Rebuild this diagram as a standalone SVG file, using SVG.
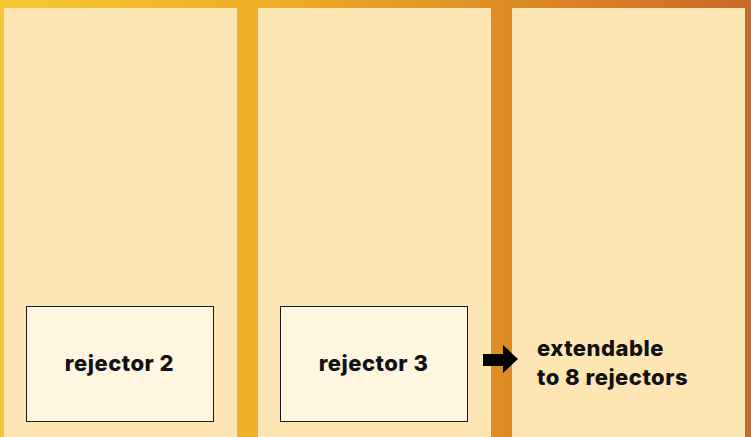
<svg xmlns="http://www.w3.org/2000/svg" width="751" height="437" viewBox="0 0 751 437">
  <defs>
    <linearGradient id="bg" x1="0" y1="0" x2="751" y2="0" gradientUnits="userSpaceOnUse">
      <stop offset="0" stop-color="#f6c833"/>
      <stop offset="0.35" stop-color="#efae27"/>
      <stop offset="0.7" stop-color="#dc8a24"/>
      <stop offset="1" stop-color="#c8692b"/>
    </linearGradient>
  </defs>
  <style>
    .panel { fill: #fde6b4; }
    .box { fill: #fff6e1; stroke: #1a1a1a; stroke-width: 1; }
    .lbl { font-family: Inter, Roboto, "Liberation Sans", sans-serif; font-weight: 800; font-size: 22px; letter-spacing: 0.5px; fill: #111111; }
  </style>
  <rect x="0" y="0" width="751" height="437" fill="url(#bg)"/>
  <g id="panels">
    <rect class="panel" x="4" y="8" width="233" height="429"/>
    <rect class="panel" x="258" y="8" width="233" height="429"/>
    <rect class="panel" x="512" y="8" width="233" height="429"/>
  </g>
  <g id="rejector2">
    <rect class="box" x="26.5" y="306.5" width="187" height="115"/>
    <text class="lbl" x="119.5" y="371" text-anchor="middle">rejector 2</text>
  </g>
  <g id="rejector3">
    <rect class="box" x="280.5" y="306.5" width="187" height="115"/>
    <text class="lbl" x="373.5" y="371" text-anchor="middle">rejector 3</text>
  </g>
  <g id="connectors">
    <polygon points="483,354 503,354 503,345 518,359 503,373 503,366 483,366" fill="#000000"/>
  </g>
  <g id="extendable">
    <text class="lbl" x="537" y="356">extendable</text>
    <text class="lbl" x="537" y="385">to 8 rejectors</text>
  </g>
</svg>
